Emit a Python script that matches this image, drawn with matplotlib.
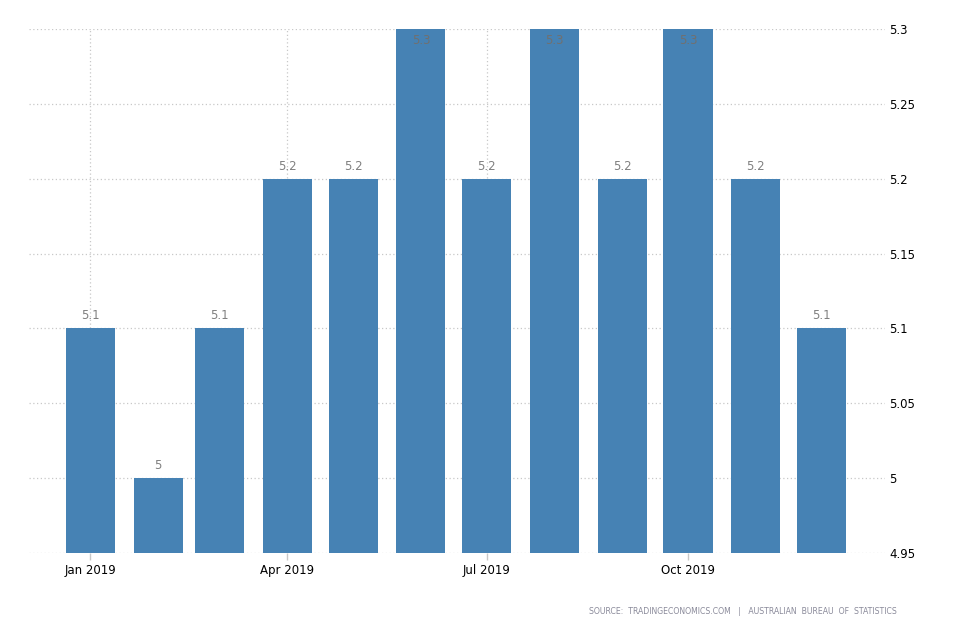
import datetime as dt
import matplotlib
matplotlib.use("Agg")
from matplotlib import pyplot as plt
from matplotlib import dates as mdates

months = [dt.date(2019, m, 1) for m in range(1, 13)]
rates = [5.1, 5.0, 5.1, 5.2, 5.2, 5.3, 5.2, 5.3, 5.2, 5.3, 5.2, 5.1]
value_labels = ['5.1', '5', '5.1', '5.2', '5.2', '5.3', '5.2', '5.3', '5.2', '5.3', '5.2', '5.1']
y_ticks = [4.95, 5.0, 5.05, 5.1, 5.15, 5.2, 5.25, 5.3]
y_tick_labels = ['4.95', '5', '5.05', '5.1', '5.15', '5.2', '5.25', '5.3']
x_ticks = [dt.date(2019, 1, 1), dt.date(2019, 4, 1), dt.date(2019, 7, 1), dt.date(2019, 10, 1)]
x_tick_labels = ['Jan 2019', 'Apr 2019', 'Jul 2019', 'Oct 2019']

plt.rcParams['font.family'] = ['DejaVu Sans']
fig = plt.figure(figsize=(9.54, 6.36), dpi=100)
ax = fig.add_axes([0.0304, 0.1305, 0.8973, 0.8239])

ymin, ymax = 4.95, 5.3
ax.bar(months, [r - ymin for r in rates], bottom=ymin, width=22.4,
       color='#4682b4', zorder=2)

for d, r, t in zip(months, rates, value_labels):
    if r >= ymax:
        # top of the axis: label sits inside the bar
        ax.annotate(t, (mdates.date2num(d), r), xytext=(0, -8), textcoords='offset points',
                    ha='center', va='center', fontsize=8.5, color='#707070', zorder=3)
    else:
        ax.annotate(t, (mdates.date2num(d), r), xytext=(0, 9), textcoords='offset points',
                    ha='center', va='center', fontsize=8.5, color='#808080', zorder=3)

ax.set_xlim(dt.date(2018, 12, 4), dt.date(2019, 12, 30))
ax.set_ylim(ymin, ymax)
ax.yaxis.tick_right()
ax.set_yticks(y_ticks)
ax.set_yticklabels(y_tick_labels)
ax.set_xticks(x_ticks)
ax.set_xticklabels(x_tick_labels)
ax.tick_params(axis='y', length=0, pad=3, labelsize=8.5, labelcolor='#000000')
ax.tick_params(axis='x', length=5, width=1, color='#c8c8c8', pad=3, labelsize=8.5,
               labelcolor='#000000')
ax.grid(True, linestyle=(0, (1, 2)), color='#c8c8c8', linewidth=0.9, zorder=0)
ax.set_axisbelow(True)
for s in ax.spines.values():
    s.set_visible(False)

fig.text(0.940, 0.039, 'SOURCE:  TRADINGECONOMICS.COM   |   AUSTRALIAN  BUREAU  OF  STATISTICS',
         ha='right', va='center', fontsize=5.6, color='#8a8a9a')

fig.savefig('out.png', dpi=100)
